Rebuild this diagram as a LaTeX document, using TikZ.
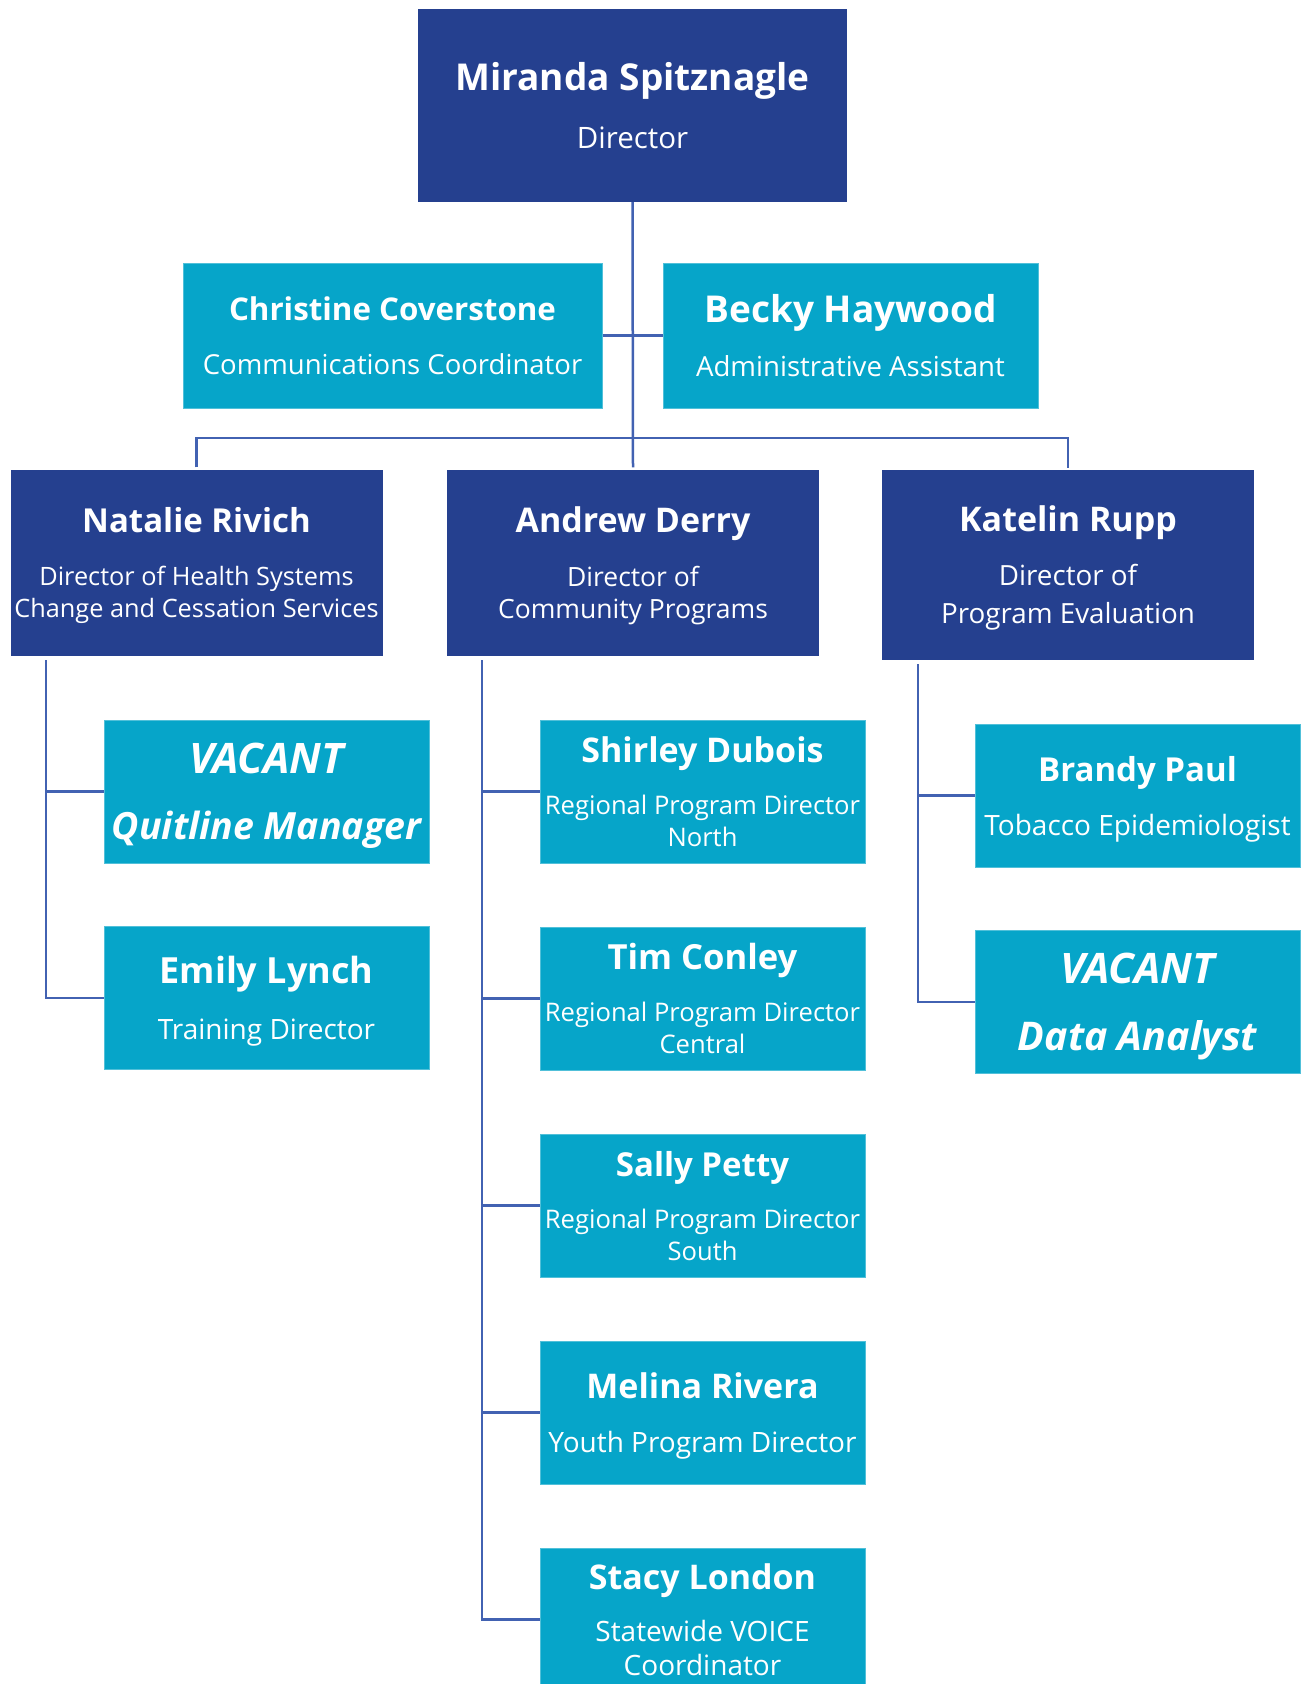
\documentclass[tikz,border=0pt]{standalone}
\usepackage{fontspec}
\setmainfont{Open Sans}
\usetikzlibrary{positioning}

\definecolor{navy}{RGB}{37,64,143}
\definecolor{teal}{RGB}{6,165,201}
\definecolor{linkblue}{RGB}{66,98,178}

\newcommand{\namesize}[1][34]{\fontsize{#1}{40}\selectfont\bfseries}
\newcommand{\titlesize}[1][28]{\fontsize{#1}{32}\selectfont}
\newcommand{\vacantsize}[1][40]{\fontsize{#1}{44}\selectfont\bfseries\itshape}

\tikzset{
  headbox/.style={fill=navy, text=white, align=center, inner sep=0pt,
    font=\titlesize, text depth=-2pt, minimum width=372pt, minimum height=186pt},
  staffbox/.style={fill=teal, draw=teal!70!white, line width=1pt, text=white,
    align=center, inner sep=0pt, font=\titlesize, text depth=0pt,
    minimum width=325pt, minimum height=143pt},
  link/.style={draw=linkblue, line width=2.5pt}
}

\begin{document}
\begin{tikzpicture}[x=1pt,y=-1pt]
\useasboundingbox[fill=white] (0,0) rectangle (1301,1684);

% top level
\node[headbox, font={\titlesize[29.5]}, text depth=0pt, minimum width=429pt, minimum height=193pt] (miranda) at (632.5,105.5)
  {{\namesize[37]Miranda Spitznagle}\\[26pt]Director};
\node[staffbox, font={\titlesize[27.5]}, minimum width=419pt, minimum height=145pt] (christine) at (392.5,335.5)
  {{\namesize[31.3]Christine Coverstone}\\[22pt]Communications Coordinator};
\node[staffbox, font={\titlesize[27.6]}, minimum width=375pt, minimum height=145pt] (becky) at (850.5,335.5)
  {{\namesize[37]Becky Haywood}\\[22pt]Administrative Assistant};

% directors
\node[headbox, font={\titlesize[25.3]}] (natalie) at (196.5,562.5)
  {{\namesize[33]Natalie Rivich}\\[21pt]Director of Health Systems\\Change and Cessation Services};
\node[headbox, font={\titlesize[26.5]}] (andrew) at (633,562.5)
  {{\namesize Andrew Derry}\\[22pt]Director of\\Community Programs};
\node[headbox, font={\titlesize[27.8]}, minimum height=190pt] (katelin) at (1068,565)
  {{\namesize Katelin Rupp}\\[22pt]Director of\\[6pt]Program Evaluation};

% health systems
\node[staffbox] (quitline) at (266.5,791.5)
  {{\vacantsize[42]VACANT}\\[34pt]{\vacantsize[37.5]Quitline Manager}};
\node[staffbox] (emily) at (266.5,998)
  {{\namesize[36]Emily Lynch}\\[24pt]Training Director};

% community programs
\node[staffbox, font={\titlesize[25.6]}] (shirley) at (702.5,791.5)
  {{\namesize Shirley Dubois}\\[20pt]Regional Program Director\\North};
\node[staffbox, font={\titlesize[25.6]}] (tim) at (702.5,998.5)
  {{\namesize[34.6]Tim Conley}\\[20pt]Regional Program Director\\Central};
\node[staffbox, font={\titlesize[25.6]}] (sally) at (702.5,1205.5)
  {{\namesize[33]Sally Petty}\\[20pt]Regional Program Director\\South};
\node[staffbox] (melina) at (702.5,1412.5)
  {{\namesize Melina Rivera}\\[22pt]Youth Program Director};
\node[staffbox] (stacy) at (702.5,1619.5)
  {{\namesize Stacy London}\\[20pt]Statewide VOICE\\[2pt]Coordinator};

% evaluation
\node[staffbox] (brandy) at (1137.5,795.5)
  {{\namesize[33]Brandy Paul}\\[22pt]Tobacco Epidemiologist};
\node[staffbox] (analyst) at (1137.5,1002)
  {{\vacantsize[42]VACANT}\\[35pt]{\vacantsize[39.5]Data Analyst}};

% connectors
\coordinate (bus) at (632.5,438);
\draw[link] (miranda.south) -- ([yshift=2pt]andrew.north);
\draw[link] (christine.east) -- (becky.west);
\draw[link] ([yshift=2pt]natalie.north) -- (natalie.north |- bus) -- (katelin.north |- bus) -- ([yshift=2pt]katelin.north);

\coordinate (nspine) at (46,660);
\draw[link] (nspine) |- (emily.west);
\draw[link] (nspine |- quitline.west) -- (quitline.west);

\coordinate (aspine) at (482,660);
\draw[link] (aspine) |- (stacy.west);
\draw[link] (aspine |- shirley.west) -- (shirley.west);
\draw[link] (aspine |- tim.west) -- (tim.west);
\draw[link] (aspine |- sally.west) -- (sally.west);
\draw[link] (aspine |- melina.west) -- (melina.west);

\coordinate (kspine) at (918,664);
\draw[link] (kspine) |- (analyst.west);
\draw[link] (kspine |- brandy.west) -- (brandy.west);
\end{tikzpicture}
\end{document}
